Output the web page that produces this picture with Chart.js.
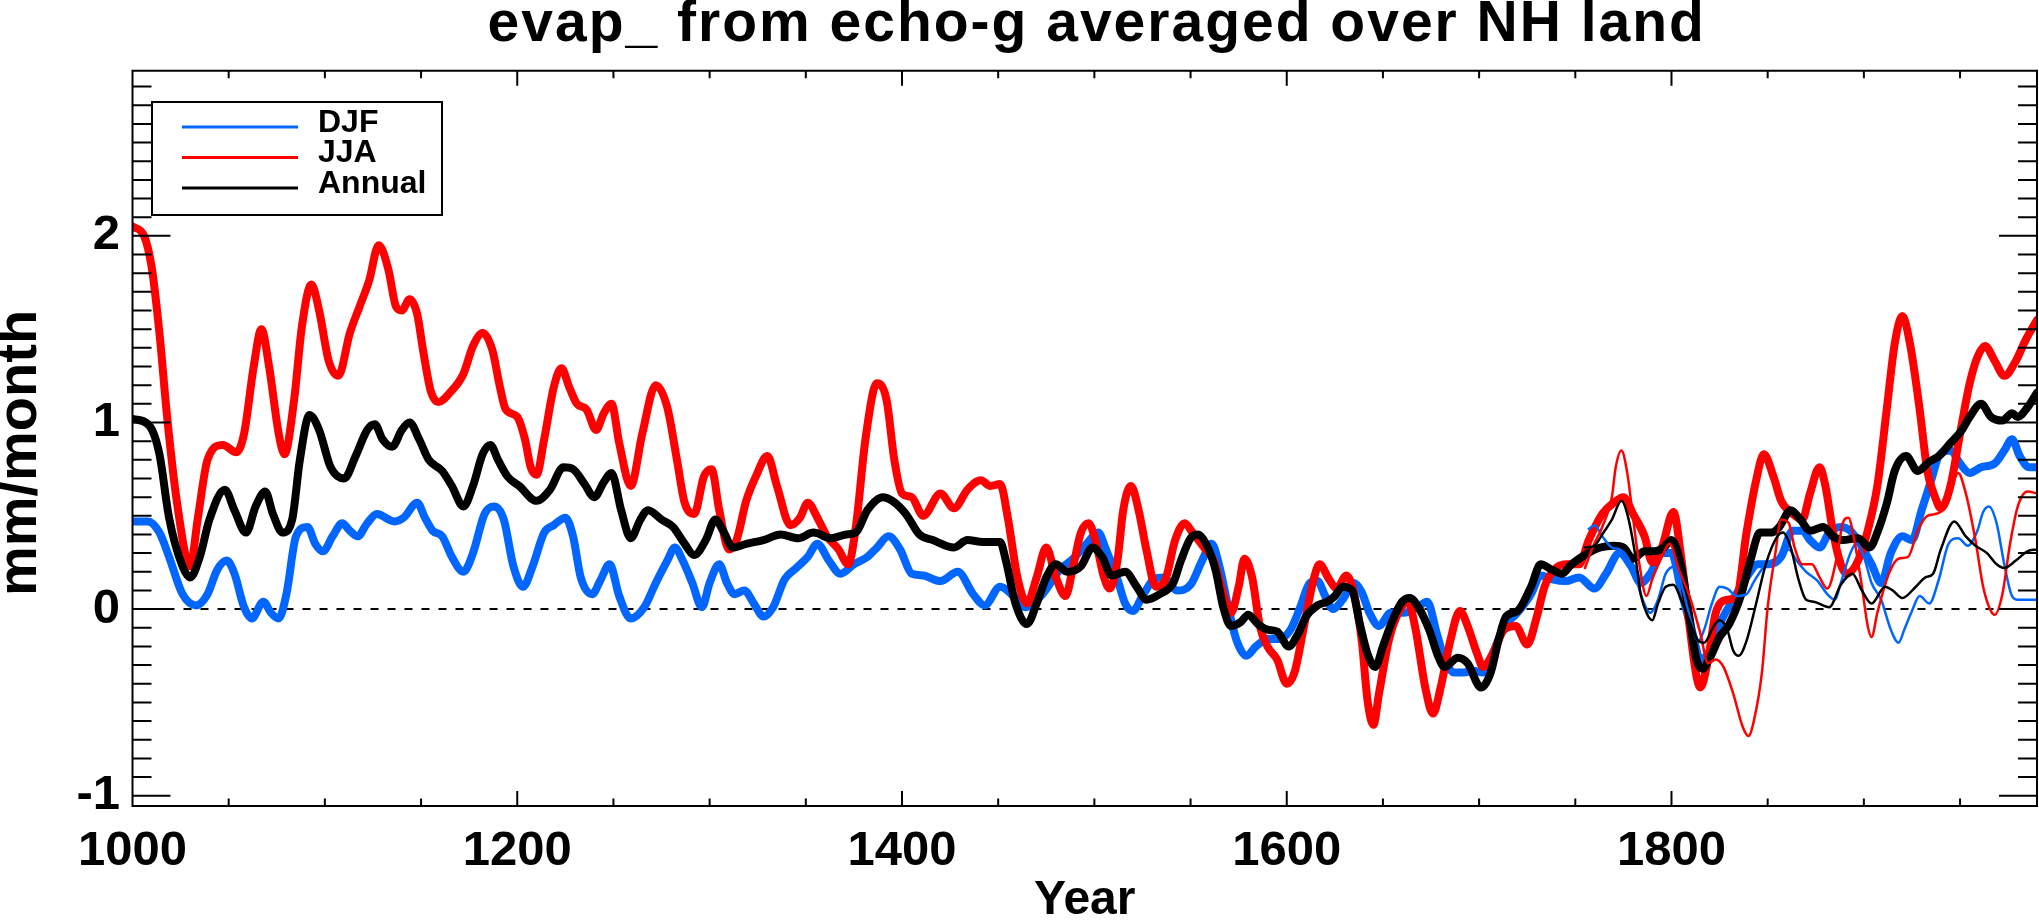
<!DOCTYPE html>
<html>
<head>
<meta charset="utf-8">
<title>evap_ from echo-g averaged over NH land</title>
<script src="https://cdn.jsdelivr.net/npm/chart.js@4.4.0/dist/chart.umd.min.js"></script>
<style>
  html, body { margin: 0; padding: 0; background: #fff; }
  canvas { display: block; }
</style>
</head>
<body>
<canvas id="evap" width="2039" height="923"></canvas>
<script>
(function() {
  'use strict';

  const chartTitle = 'evap_ from echo-g averaged over NH land';
  const xTitle = 'Year';
  const yTitle = 'mm/month';
  const legendLabels = ['DJF', 'JJA', 'Annual'];
  const xTickValues = [1000, 1200, 1400, 1600, 1800];
  const yTickValues = [-1, 0, 1, 2];

  // thick curves, 1000-1990
  const djfYears = [
    1000,1008,1014,1019,1026,1033,1039,1044,1049,1053,
    1058,1062,1068,1072,1076,1080,1085,1091,1095,1099,
    1104,1109,1113,1117,1122,1127,1136,1141,1148,1152,
    1156,1161,1166,1172,1177,1183,1188,1193,1198,1203,
    1208,1214,1219,1225,1229,1233,1239,1243,1248,1253,
    1259,1266,1272,1278,1282,1286,1291,1296,1300,1305,
    1309,1313,1318,1323,1328,1333,1339,1345,1351,1356,
    1362,1368,1375,1382,1387,1393,1399,1405,1411,1420,
    1429,1437,1443,1451,1458,1464,1473,1482,1489,1496,
    1502,1506,1512,1516,1520,1525,1531,1536,1543,1550,
    1556,1561,1565,1570,1574,1579,1584,1590,1596,1602,
    1607,1612,1616,1620,1624,1629,1635,1639,1643,1648,
    1654,1661,1668,1673,1678,1682,1687,1692,1697,1702,
    1707,1713,1719,1727,1732,1738,1745,1752,1760,1766,
    1773,1779,1784,1789,1795,1800,1805,1811,1815,1820,
    1825,1832,1839,1845,1851,1857,1863,1868,1872,1877,
    1882,1888,1893,1898,1904,1909,1914,1920,1925,1930,
    1935,1939,1945,1950,1955,1961,1968,1973,1977,1981,
    1986,1990
  ];
  const djfValues = [
    0.47,0.47,0.41,0.28,0.08,0.02,0.08,0.21,0.26,0.19,
    0.01,-0.05,0.04,-0.02,-0.05,0.08,0.39,0.44,0.35,0.31,
    0.39,0.46,0.42,0.39,0.46,0.51,0.47,0.49,0.57,0.49,
    0.42,0.39,0.28,0.20,0.30,0.51,0.55,0.48,0.23,0.12,
    0.23,0.41,0.45,0.49,0.39,0.17,0.08,0.15,0.24,0.07,
    -0.05,0.01,0.14,0.26,0.33,0.26,0.14,0.01,0.14,0.24,
    0.14,0.08,0.10,0.03,-0.04,0.01,0.16,0.22,0.28,0.35,
    0.26,0.19,0.24,0.28,0.33,0.39,0.32,0.19,0.18,0.15,
    0.20,0.08,0.02,0.12,0.07,0.01,0.08,0.21,0.27,0.35,
    0.41,0.32,0.16,0.03,-0.01,0.07,0.16,0.17,0.10,0.13,
    0.26,0.35,0.23,-0.01,-0.17,-0.25,-0.20,-0.16,-0.16,-0.11,
    0.01,0.14,0.15,0.07,0.00,0.05,0.14,0.09,-0.02,-0.09,
    -0.02,-0.02,0.01,0.04,-0.13,-0.27,-0.34,-0.34,-0.33,-0.34,
    -0.24,-0.09,-0.03,0.08,0.18,0.16,0.15,0.17,0.11,0.19,
    0.30,0.23,0.14,0.19,0.30,0.30,0.10,-0.13,-0.27,-0.22,
    -0.08,0.05,0.17,0.24,0.24,0.28,0.42,0.42,0.37,0.33,
    0.41,0.44,0.42,0.35,0.24,0.14,0.30,0.39,0.37,0.53,
    0.69,0.82,0.85,0.78,0.73,0.76,0.78,0.85,0.91,0.82,
    0.76,0.76
  ];

  const jjaYears = [
    1000,1006,1010,1014,1018,1023,1030,1034,1039,1047,
    1054,1058,1063,1067,1071,1076,1079,1084,1088,1093,
    1097,1102,1107,1113,1118,1123,1128,1133,1137,1140,
    1144,1148,1151,1155,1159,1165,1172,1177,1182,1187,
    1191,1194,1200,1204,1207,1210,1214,1219,1223,1227,
    1231,1236,1241,1245,1249,1253,1259,1265,1272,1278,
    1283,1287,1292,1297,1301,1305,1310,1314,1319,1324,
    1330,1335,1342,1347,1351,1356,1361,1367,1372,1376,
    1381,1387,1392,1396,1400,1405,1411,1420,1427,1434,
    1441,1446,1451,1455,1460,1465,1470,1475,1480,1485,
    1489,1493,1497,1501,1505,1508,1512,1515,1519,1523,
    1527,1532,1537,1542,1547,1551,1557,1562,1567,1571,
    1575,1578,1582,1586,1590,1595,1600,1604,1609,1614,
    1617,1622,1626,1631,1635,1639,1642,1645,1648,1653,
    1658,1663,1667,1672,1676,1680,1685,1690,1694,1699,
    1702,1707,1713,1719,1725,1730,1734,1739,1745,1752,
    1757,1764,1770,1775,1780,1786,1790,1795,1801,1805,
    1809,1813,1815,1819,1823,1829,1834,1839,1844,1848,
    1853,1857,1863,1868,1872,1877,1880,1884,1888,1891,
    1897,1902,1907,1912,1916,1920,1924,1929,1933,1937,
    1940,1945,1950,1955,1959,1963,1968,1973,1979,1984,
    1990
  ];
  const jjaValues = [
    2.05,2.00,1.83,1.48,1.03,0.58,0.23,0.49,0.80,0.88,
    0.84,0.94,1.30,1.50,1.30,0.94,0.83,1.12,1.51,1.74,
    1.60,1.33,1.25,1.48,1.62,1.76,1.95,1.82,1.62,1.60,
    1.66,1.58,1.39,1.17,1.11,1.16,1.26,1.41,1.48,1.39,
    1.19,1.07,1.03,0.91,0.76,0.72,0.91,1.19,1.29,1.19,
    1.10,1.07,0.96,1.05,1.10,0.89,0.66,0.94,1.20,1.08,
    0.80,0.57,0.51,0.71,0.75,0.53,0.32,0.37,0.58,0.71,
    0.82,0.66,0.45,0.49,0.57,0.49,0.39,0.32,0.24,0.44,
    0.91,1.21,1.12,0.80,0.62,0.60,0.50,0.62,0.54,0.64,
    0.69,0.66,0.67,0.49,0.17,0.03,0.17,0.33,0.17,0.07,
    0.23,0.41,0.46,0.35,0.17,0.11,0.26,0.53,0.66,0.53,
    0.32,0.12,0.16,0.37,0.46,0.41,0.33,0.26,0.08,-0.02,
    0.12,0.27,0.17,-0.09,-0.20,-0.27,-0.40,-0.34,-0.09,0.16,
    0.24,0.16,0.11,0.18,0.08,-0.17,-0.49,-0.62,-0.45,-0.17,
    -0.02,0.04,-0.11,-0.42,-0.56,-0.42,-0.17,-0.01,-0.09,-0.24,
    -0.31,-0.24,-0.11,-0.09,-0.19,-0.04,0.12,0.21,0.24,0.24,
    0.37,0.51,0.57,0.60,0.51,0.39,0.25,0.33,0.52,0.28,
    -0.06,-0.36,-0.42,-0.27,-0.02,0.05,0.07,0.41,0.69,0.83,
    0.71,0.58,0.51,0.48,0.62,0.76,0.66,0.41,0.24,0.19,
    0.26,0.42,0.66,1.08,1.42,1.57,1.42,1.07,0.74,0.60,
    0.54,0.66,0.94,1.21,1.35,1.41,1.33,1.25,1.33,1.44,
    1.55
  ];

  const annYears = [
    1000,1009,1014,1019,1026,1030,1035,1040,1048,1053,
    1059,1064,1069,1073,1078,1083,1087,1092,1097,1103,
    1110,1116,1122,1126,1130,1135,1140,1144,1149,1154,
    1161,1166,1172,1177,1182,1186,1190,1195,1201,1210,
    1217,1224,1229,1235,1240,1245,1249,1254,1259,1264,
    1268,1275,1281,1287,1292,1298,1303,1307,1312,1319,
    1328,1337,1346,1354,1363,1371,1376,1382,1390,1395,
    1402,1409,1416,1427,1434,1442,1451,1454,1459,1465,
    1470,1475,1480,1486,1493,1499,1504,1509,1516,1522,
    1527,1534,1541,1545,1550,1554,1558,1563,1567,1571,
    1576,1580,1585,1590,1595,1601,1606,1610,1616,1621,
    1625,1629,1634,1638,1642,1646,1650,1655,1660,1664,
    1669,1674,1679,1682,1689,1694,1701,1706,1710,1714,
    1720,1727,1732,1738,1743,1748,1755,1763,1770,1775,
    1780,1786,1791,1796,1800,1805,1809,1813,1816,1820,
    1825,1830,1836,1841,1846,1852,1856,1862,1867,1872,
    1879,1884,1889,1897,1903,1907,1912,1916,1922,1928,
    1934,1939,1945,1951,1955,1961,1966,1972,1977,1980,
    1985,1990
  ];
  const annValues = [
    1.02,0.98,0.83,0.49,0.23,0.17,0.28,0.48,0.64,0.53,
    0.41,0.55,0.63,0.51,0.41,0.48,0.80,1.04,0.96,0.76,
    0.70,0.82,0.96,0.99,0.91,0.87,0.96,1.00,0.91,0.80,
    0.74,0.66,0.55,0.66,0.83,0.88,0.80,0.71,0.66,0.58,
    0.64,0.76,0.75,0.67,0.60,0.68,0.73,0.53,0.38,0.48,
    0.53,0.48,0.44,0.35,0.29,0.37,0.48,0.42,0.33,0.35,
    0.37,0.40,0.38,0.41,0.38,0.40,0.41,0.53,0.60,0.58,
    0.51,0.40,0.37,0.33,0.37,0.36,0.36,0.26,0.03,-0.08,
    0.03,0.17,0.24,0.20,0.23,0.33,0.28,0.18,0.20,0.12,
    0.05,0.08,0.14,0.26,0.38,0.40,0.35,0.21,0.01,-0.09,
    -0.07,-0.03,-0.08,-0.11,-0.12,-0.20,-0.13,-0.04,0.02,0.04,
    0.07,0.12,0.10,-0.08,-0.24,-0.31,-0.20,-0.06,0.04,0.06,
    0.00,-0.11,-0.26,-0.31,-0.26,-0.29,-0.42,-0.34,-0.17,-0.04,
    -0.01,0.12,0.24,0.21,0.19,0.24,0.29,0.33,0.34,0.33,
    0.27,0.31,0.31,0.33,0.37,0.23,-0.02,-0.27,-0.32,-0.26,
    -0.15,-0.08,0.07,0.26,0.41,0.41,0.44,0.53,0.48,0.42,
    0.44,0.39,0.37,0.38,0.33,0.41,0.57,0.74,0.82,0.74,
    0.79,0.82,0.89,0.96,1.03,1.10,1.03,1.01,1.05,1.03,
    1.08,1.16
  ];

  // thin curves, from about 1755
  const djfThinYears = [
    1757,1760,1764,1769,1773,1777,1781,1784,1789,1793,
    1797,1802,1806,1810,1814,1817,1821,1825,1829,1834,
    1839,1843,1849,1856,1861,1865,1870,1876,1881,1885,
    1888,1893,1896,1900,1904,1909,1914,1918,1921,1925,
    1929,1934,1939,1944,1949,1954,1959,1962,1965,1969,
    1973,1977,1980,1990
  ];
  const djfThinValues = [
    0.43,0.45,0.39,0.33,0.32,0.28,0.19,0.08,-0.02,0.05,
    0.19,0.23,0.10,-0.06,-0.17,-0.11,0.03,0.12,0.11,0.07,
    0.08,0.15,0.24,0.28,0.32,0.26,0.20,0.15,0.08,0.05,
    0.14,0.30,0.35,0.28,0.14,0.05,-0.11,-0.18,-0.11,-0.01,
    0.07,0.03,0.16,0.35,0.38,0.34,0.42,0.52,0.55,0.46,
    0.24,0.07,0.05,0.05
  ];

  const jjaThinYears = [
    1755,1759,1764,1769,1771,1774,1777,1780,1783,1787,
    1790,1795,1799,1804,1810,1815,1819,1823,1827,1832,
    1837,1840,1843,1847,1850,1854,1857,1861,1864,1868,
    1873,1877,1881,1886,1889,1892,1895,1899,1902,1904,
    1907,1913,1918,1923,1928,1933,1940,1946,1949,1953,
    1958,1962,1966,1968,1972,1976,1980,1985,1990
  ];
  const jjaThinValues = [
    0.22,0.33,0.44,0.60,0.76,0.85,0.73,0.49,0.26,0.07,
    0.16,0.28,0.35,0.21,0.05,-0.13,-0.29,-0.27,-0.31,-0.45,
    -0.63,-0.68,-0.59,-0.34,0.01,0.30,0.48,0.46,0.33,0.24,
    0.24,0.17,0.11,0.28,0.46,0.49,0.37,0.12,-0.09,-0.15,
    -0.02,0.19,0.27,0.28,0.42,0.50,0.52,0.67,0.73,0.62,
    0.37,0.12,-0.01,-0.03,0.08,0.35,0.55,0.63,0.62
  ];

  const annThinYears = [
    1755,1760,1764,1769,1774,1777,1781,1784,1787,1790,
    1793,1797,1801,1805,1810,1814,1817,1822,1825,1829,
    1832,1835,1839,1844,1849,1855,1858,1862,1866,1870,
    1874,1882,1888,1894,1899,1904,1911,1915,1920,1927,
    1932,1936,1940,1947,1953,1958,1964,1969,1973,1979,
    1985,1990
  ];
  const annThinValues = [
    0.33,0.34,0.40,0.48,0.58,0.51,0.30,0.08,-0.02,-0.06,
    0.03,0.12,0.13,0.05,-0.08,-0.17,-0.18,-0.09,-0.06,-0.11,
    -0.22,-0.25,-0.17,0.03,0.24,0.39,0.41,0.33,0.16,0.05,
    0.04,0.01,0.13,0.19,0.10,0.03,0.12,0.10,0.06,0.12,
    0.17,0.19,0.32,0.47,0.39,0.34,0.30,0.24,0.22,0.26,
    0.31,0.32
  ];

  const zeroYears = [1000, 1990];
  const zeroValues = [0, 0];

  const BLUE = 'rgb(0,102,255)';
  const RED = 'rgb(255,0,0)';
  const BLACK = '#000';
  const FONT = '"Liberation Sans", Arial, Helvetica, sans-serif';

  function pts(xs, ys) {
    return xs.map(function(x, i) { return {x: x, y: ys[i]}; });
  }

  function series(label, xs, ys, color, width, order, dash) {
    return {
      label: label,
      data: pts(xs, ys),
      borderColor: color,
      borderWidth: width,
      borderDash: dash || [],
      pointRadius: 0,
      fill: false,
      cubicInterpolationMode: 'monotone',
      borderJoinStyle: 'round',
      borderCapStyle: dash ? 'butt' : 'round',
      order: order
    };
  }

  // IDL style box: frame, inward ticks on all sides, titles and legend
  const idlFrame = {
    id: 'idlFrame',
    afterDraw: function(chart) {
      const ctx = chart.ctx;
      const a = chart.chartArea;
      const x = chart.scales.x;
      const y = chart.scales.y;

      ctx.save();
      ctx.strokeStyle = BLACK;
      ctx.lineWidth = 2;
      ctx.beginPath();
      ctx.rect(a.left, a.top, a.right - a.left, a.bottom - a.top);
      for (let i = Math.ceil(y.min * 10); i <= Math.floor(y.max * 10); i++) {
        const py = y.getPixelForValue(i / 10);
        const len = i % 10 === 0 ? 38 : 19;
        ctx.moveTo(a.left, py); ctx.lineTo(a.left + len, py);
        ctx.moveTo(a.right, py); ctx.lineTo(a.right - len, py);
      }
      for (let v = x.min; v <= x.max; v += 50) {
        const px = x.getPixelForValue(v);
        const len = v % 200 === 0 ? 15 : 7.5;
        ctx.moveTo(px, a.bottom); ctx.lineTo(px, a.bottom - len);
        ctx.moveTo(px, a.top); ctx.lineTo(px, a.top + len);
      }
      ctx.stroke();

      // main title
      ctx.fillStyle = BLACK;
      ctx.font = 'bold 57px ' + FONT;
      ctx.textAlign = 'center';
      ctx.textBaseline = 'alphabetic';
      if ('letterSpacing' in ctx) ctx.letterSpacing = '2px';
      ctx.fillText(chartTitle, (a.left + a.right) / 2 + 12, 41);
      if ('letterSpacing' in ctx) ctx.letterSpacing = '0px';

      // y axis title, rotated
      ctx.save();
      ctx.translate(36, 453);
      ctx.rotate(-Math.PI / 2);
      ctx.font = 'bold 56px ' + FONT;
      ctx.textAlign = 'center';
      ctx.textBaseline = 'alphabetic';
      ctx.fillText(yTitle, 0, 0);
      ctx.restore();

      // legend
      ctx.lineWidth = 2;
      ctx.strokeStyle = BLACK;
      ctx.strokeRect(152, 102, 290, 113);
      ctx.font = 'bold 32px ' + FONT;
      ctx.textAlign = 'left';
      ctx.textBaseline = 'middle';
      legendLabels.forEach(function(lab, k) {
        const ds = chart.data.datasets.find(function(d) { return d.label === lab; });
        const ly = 127 + k * 30.5;
        ctx.strokeStyle = ds.borderColor;
        ctx.lineWidth = 3;
        ctx.beginPath();
        ctx.moveTo(182, ly); ctx.lineTo(298, ly);
        ctx.stroke();
        ctx.fillStyle = BLACK;
        ctx.fillText(lab, 318, ly - 4);
      });
      ctx.restore();
    }
  };

  const tickFont = {family: FONT, size: 49, weight: 'bold'};

  new Chart(document.getElementById('evap'), {
    type: 'line',
    data: {
      datasets: [
        series('zero', zeroYears, zeroValues, BLACK, 2, 7, [8, 9]),
        series('DJF', djfYears, djfValues, BLUE, 8, 6),
        series('JJA', jjaYears, jjaValues, RED, 8, 5),
        series('Annual', annYears, annValues, BLACK, 8, 4),
        series('DJF thin', djfThinYears, djfThinValues, BLUE, 2.5, 3),
        series('JJA thin', jjaThinYears, jjaThinValues, RED, 2.5, 2),
        series('Annual thin', annThinYears, annThinValues, BLACK, 2.5, 1)
      ]
    },
    options: {
      responsive: false,
      animation: false,
      devicePixelRatio: 1,
      layout: {padding: {left: 0, right: 2, top: 70.7, bottom: 0}},
      plugins: {
        legend: {display: false},
        tooltip: {enabled: false},
        title: {display: false}
      },
      scales: {
        x: {
          type: 'linear',
          position: 'bottom',
          min: 1000,
          max: 1990,
          grid: {display: false, drawTicks: false},
          border: {display: false},
          afterBuildTicks: function(s) {
            s.ticks = xTickValues.map(function(v) { return {value: v}; });
          },
          ticks: {
            autoSkip: false,
            maxRotation: 0,
            minRotation: 0,
            padding: 15.6,
            color: BLACK,
            font: tickFont,
            callback: function(v) { return String(v); }
          },
          title: {
            display: true,
            text: xTitle,
            color: BLACK,
            font: {family: FONT, size: 48, weight: 'bold', lineHeight: 0.9},
            padding: {top: 0, bottom: 1}
          },
          afterFit: function(s) { s.height = 117; }
        },
        y: {
          type: 'linear',
          position: 'left',
          min: -1.055,
          max: 2.885,
          grid: {display: false, drawTicks: false},
          border: {display: false},
          afterBuildTicks: function(s) {
            s.ticks = yTickValues.map(function(v) { return {value: v}; });
          },
          ticks: {
            padding: 12.5,
            color: BLACK,
            font: tickFont,
            callback: function(v) { return String(v); }
          },
          afterFit: function(s) { s.width = 132.5; }
        }
      }
    },
    plugins: [idlFrame]
  });
})();
</script>
</body>
</html>
